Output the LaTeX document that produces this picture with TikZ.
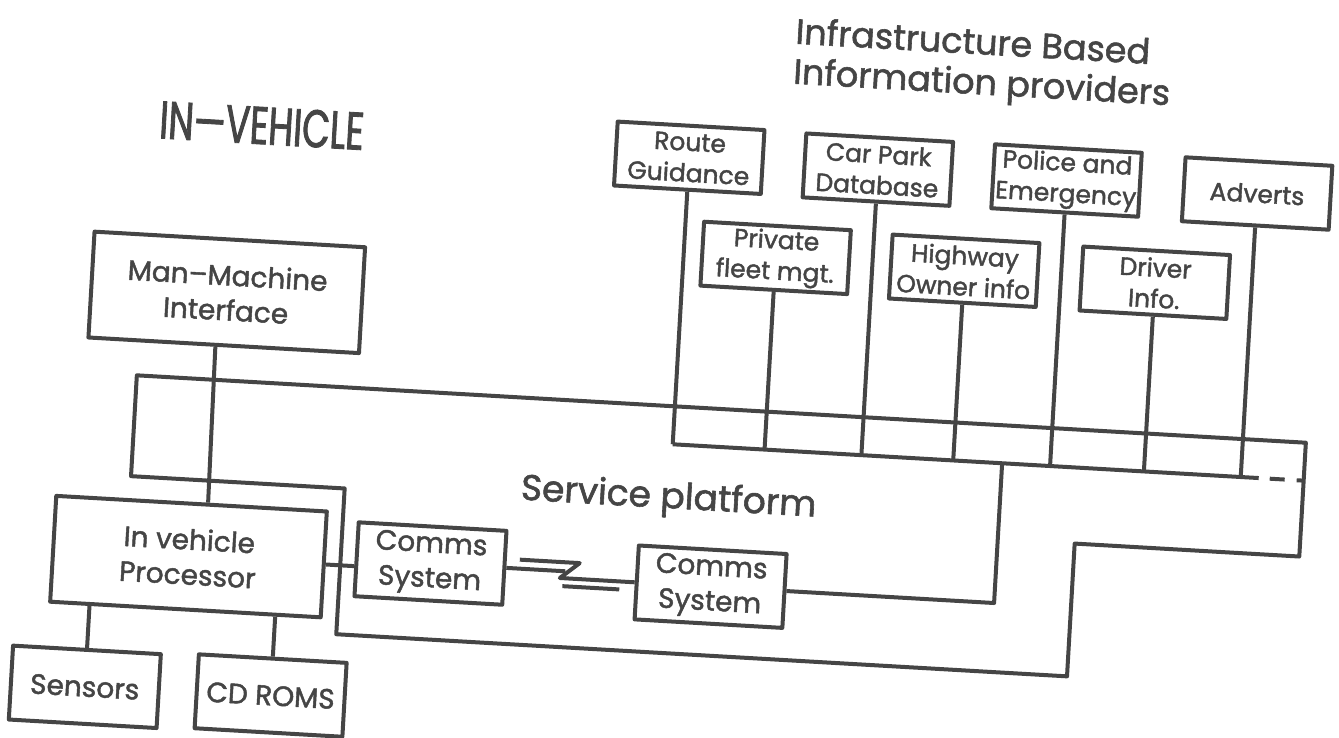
\documentclass[tikz,border=0pt]{standalone}
\usepackage{fontspec}
\setmainfont{Poppins}[FakeBold=1.6]
\newfontfamily\condfont[FakeStretch=0.68,FakeBold=1.6]{Poppins}
\usetikzlibrary{calc}
\definecolor{ink}{gray}{0.27}
\tikzset{
  ln/.style={draw=ink,line width=4pt,line join=round},
  bigbox/.style={ln,rectangle,minimum width=271pt,minimum height=106pt,inner sep=0pt,align=center,text=ink,font=\fontsize{28}{35}\selectfont},
  smallbox/.style={bigbox,minimum width=148pt,minimum height=74pt},
  infobox/.style={bigbox,minimum width=147pt,minimum height=64pt,font=\fontsize{25}{31}\selectfont},
  title/.style={text=ink,inner sep=0pt,font=\fontsize{35}{40}\selectfont}
}

\begin{document}
\begin{tikzpicture}[x=1pt,y=-1pt]
\fill[white] (0,0) rectangle (1339,737);
\useasboundingbox (0,0) rectangle (1339,737);
\begin{scope}[rotate around={-3.3:(670,370)},transform shape]
\node[title,align=left,anchor=north west] (infra) at (776,10) {Infrastructure Based\\Information providers};
\node[title,anchor=base west,font=\condfont\fontsize{53}{60}\selectfont] (inveh) at (146,168) {IN—VEHICLE};
\node[title,anchor=base,font=\fontsize{36}{40}\selectfont] (serv) at (676,508) {Service platform};

\node[bigbox] (mmi) at (223,318) {Man–Machine\\Interface};
\node[bigbox] (ivp) at (200,584) {In vehicle\\Processor};
\node[smallbox] (sens) at (104,720) {Sensors};
\node[smallbox] (cdrom) at (290,718) {CD ROMS};
\node[smallbox] (cs1) at (442,577) {Comms\\System};
\node[smallbox] (cs2) at (723,584) {Comms\\System};

\node[infobox] (rg) at (677,157) {Route\\Guidance};
\node[infobox] (cp) at (866,158) {Car Park\\Database};
\node[infobox] (pe) at (1055,158) {Police and\\Emergency};
\node[infobox] (adv) at (1246,160) {Adverts};
\node[infobox] (pf) at (769,252) {Private\\fleet mgt.};
\node[infobox] (hw) at (958,254) {Highway\\Owner info};
\node[infobox] (di) at (1149,255) {Driver\\Info.};

\draw[ln] (138,406) -- (1309,406) -- (1309,520) -- (1084,520) -- (1084,653) -- (352,653) -- (352,507) -- (138,507) -- cycle;

\coordinate (busl) at (677,444);
\coordinate (busr) at (1264,444);
\coordinate (tap) at (1007,444);
\coordinate (tapc) at (1007,584);
\draw[ln] (busl) -- (busr);
\draw[ln,dash pattern=on 15pt off 12pt on 10pt] (1275,444) -- (1309,444);
\foreach \nd in {rg,pf,cp,hw,pe,di,adv}
  \draw[ln] (\nd.south) -- ($(busl)!(\nd.south)!(busr)$);
\draw[ln] (cs2.east) -- (tapc) -- (tap);

\draw[ln] ($(mmi.south west)!0.47!(mmi.south east)$) -- ($(ivp.north west)!0.56!(ivp.north east)$);
\draw[ln] (sens.north) -- ($(ivp.south west)!(sens.north)!(ivp.south east)$);
\draw[ln] (cdrom.north) -- ($(ivp.south west)!(cdrom.north)!(ivp.south east)$);
\draw[ln] (ivp.east) -- ($(cs1.north west)!(ivp.east)!(cs1.south west)$);

\coordinate (z1) at (577,577);
\coordinate (za) at (531,568);
\coordinate (zb) at (591,568);
\coordinate (zc) at (572,584);
\coordinate (zd) at (575,592);
\coordinate (ze) at (632,592);
\draw[ln] (cs1.east) -- (z1);
\draw[ln] (za) -- (zb) -- (zc) -- (cs2.west);
\draw[ln] (zd) -- (ze);
\end{scope}
\end{tikzpicture}
\end{document}
